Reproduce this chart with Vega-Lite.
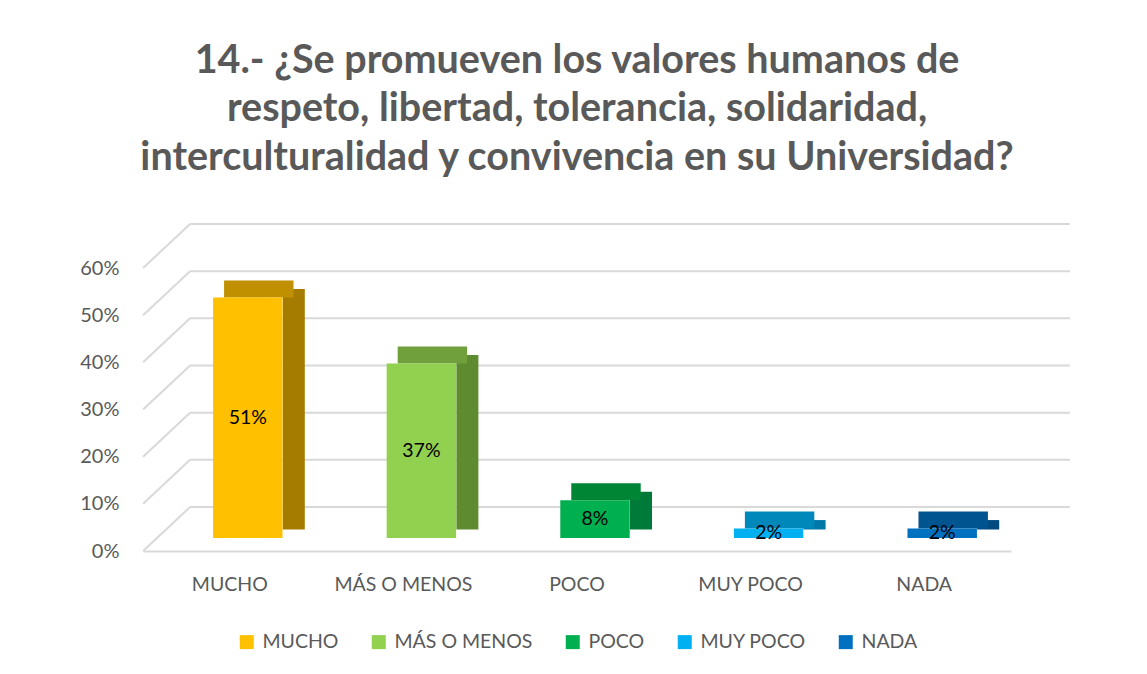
{
  "$schema": "https://vega.github.io/schema/vega-lite/v6.json",
  "width": 868,
  "height": 283,
  "autosize": {"type": "none"},
  "padding": {"left": 143, "top": 268, "right": 136, "bottom": 123},
  "background": "white",
  "title": {
    "text": ["14.- ¿Se promueven los valores humanos de", "respeto, libertad, tolerancia, solidaridad,", "interculturalidad y convivencia en su Universidad?"],
    "font": "Lato", "fontSize": 39.5, "fontWeight": "bold", "color": "#595959",
    "lineHeight": 48.5, "anchor": "middle", "offset": 45
  },
  "config": {"view": {"stroke": null}, "font": "Lato", "legend": {"layout": {"bottom": {"anchor": "middle"}}}},
  "datasets": {
    "bars": [
      {"categoria": "MUCHO", "valor": 0.51},
      {"categoria": "MÁS O MENOS", "valor": 0.37},
      {"categoria": "POCO", "valor": 0.08},
      {"categoria": "MUY POCO", "valor": 0.02},
      {"categoria": "NADA", "valor": 0.02}
    ],
    "grid": [{"v": 0}, {"v": 0.1}, {"v": 0.2}, {"v": 0.3}, {"v": 0.4}, {"v": 0.5}, {"v": 0.6}]
  },
  "resolve": {"scale": {"color": "independent"}},
  "layer": [
    {
      "data": {"name": "grid"},
      "mark": {"type": "rule", "color": "#d9d9d9", "strokeWidth": 2, "xOffset": -52, "x2Offset": -5, "yOffset": 0, "y2Offset": -44},
      "encoding": {
        "x": {"datum": "MUCHO", "bandPosition": 0, "type": "nominal",
          "scale": {"domain": ["MUCHO", "MÁS O MENOS", "POCO", "MUY POCO", "NADA"], "paddingInner": 0.6, "paddingOuter": 0.3},
          "axis": {"bandPosition": 0.5, "labelFontSize": 19.5, "labelColor": "#595959", "labelAngle": 0, "ticks": false, "domainColor": "#d9d9d9", "domainWidth": 2, "labelPadding": 24, "title": null, "grid": false}},
        "x2": {"datum": "MUCHO", "bandPosition": 0},
        "y": {"field": "v", "type": "quantitative", "scale": {"domain": [0, 0.6], "nice": false},
          "axis": {"format": ".0%", "values": [0, 0.1, 0.2, 0.3, 0.4, 0.5, 0.6], "labelFontSize": 20, "labelColor": "#595959", "domain": false, "ticks": false, "grid": false, "labelPadding": 24, "title": null}},
        "y2": {"field": "v"}
      }
    },
    {
      "data": {"name": "grid"},
      "mark": {"type": "rule", "color": "#d9d9d9", "strokeWidth": 2, "xOffset": -5, "x2Offset": 111, "yOffset": -44},
      "encoding": {
        "x": {"datum": "MUCHO", "bandPosition": 0, "type": "nominal"},
        "x2": {"datum": "NADA", "bandPosition": 1},
        "y": {"field": "v", "type": "quantitative"}
      }
    },
    {
      "data": {"name": "bars"},
      "mark": {"type": "bar", "width": 22, "xOffset": 64, "yOffset": -21.5, "y2Offset": -21.5},
      "encoding": {
        "x": {"field": "categoria", "type": "nominal", "sort": null},
        "y": {"field": "valor", "type": "quantitative"},
        "color": {"field": "categoria", "type": "nominal", "sort": null, "legend": null,
          "scale": {"domain": ["MUCHO", "MÁS O MENOS", "POCO", "MUY POCO", "NADA"], "range": ["#a67c00", "#5e8a30", "#007a38", "#0078a8", "#004a80"]}}
      }
    },
    {
      "data": {"name": "bars"},
      "mark": {"type": "bar", "xOffset": 29, "yOffset": -30, "y2Offset": -13},
      "encoding": {
        "x": {"field": "categoria", "type": "nominal", "sort": null},
        "y": {"field": "valor", "type": "quantitative"},
        "y2": {"field": "valor"},
        "color": {"field": "categoria", "type": "nominal", "sort": null, "legend": null,
          "scale": {"domain": ["MUCHO", "MÁS O MENOS", "POCO", "MUY POCO", "NADA"], "range": ["#c09000", "#70a03c", "#008535", "#0088bb", "#005490"]}}
      }
    },
    {
      "data": {"name": "bars"},
      "mark": {"type": "bar", "xOffset": 18, "yOffset": -13, "y2Offset": -13},
      "encoding": {
        "x": {"field": "categoria", "type": "nominal", "sort": null},
        "y": {"field": "valor", "type": "quantitative"},
        "color": {"field": "categoria", "type": "nominal", "sort": null,
          "scale": {"domain": ["MUCHO", "MÁS O MENOS", "POCO", "MUY POCO", "NADA"], "range": ["#ffc000", "#92d050", "#00b050", "#00b0f0", "#0070c0"]},
          "legend": {"orient": "bottom", "direction": "horizontal", "title": null, "symbolType": "square", "symbolSize": 196, "symbolStrokeWidth": 0, "labelFontSize": 19.5, "labelColor": "#595959", "columnPadding": 30, "labelOffset": 6, "offset": 38}}
      }
    },
    {
      "data": {"name": "bars"},
      "transform": [{"calculate": "datum.valor / 2", "as": "medio"}],
      "mark": {"type": "text", "xOffset": 18, "yOffset": -13, "fontSize": 19.5, "color": "#000000", "baseline": "middle"},
      "encoding": {
        "x": {"field": "categoria", "type": "nominal", "sort": null},
        "y": {"field": "medio", "type": "quantitative"},
        "text": {"field": "valor", "type": "quantitative", "format": ".0%"}
      }
    }
  ]
}
